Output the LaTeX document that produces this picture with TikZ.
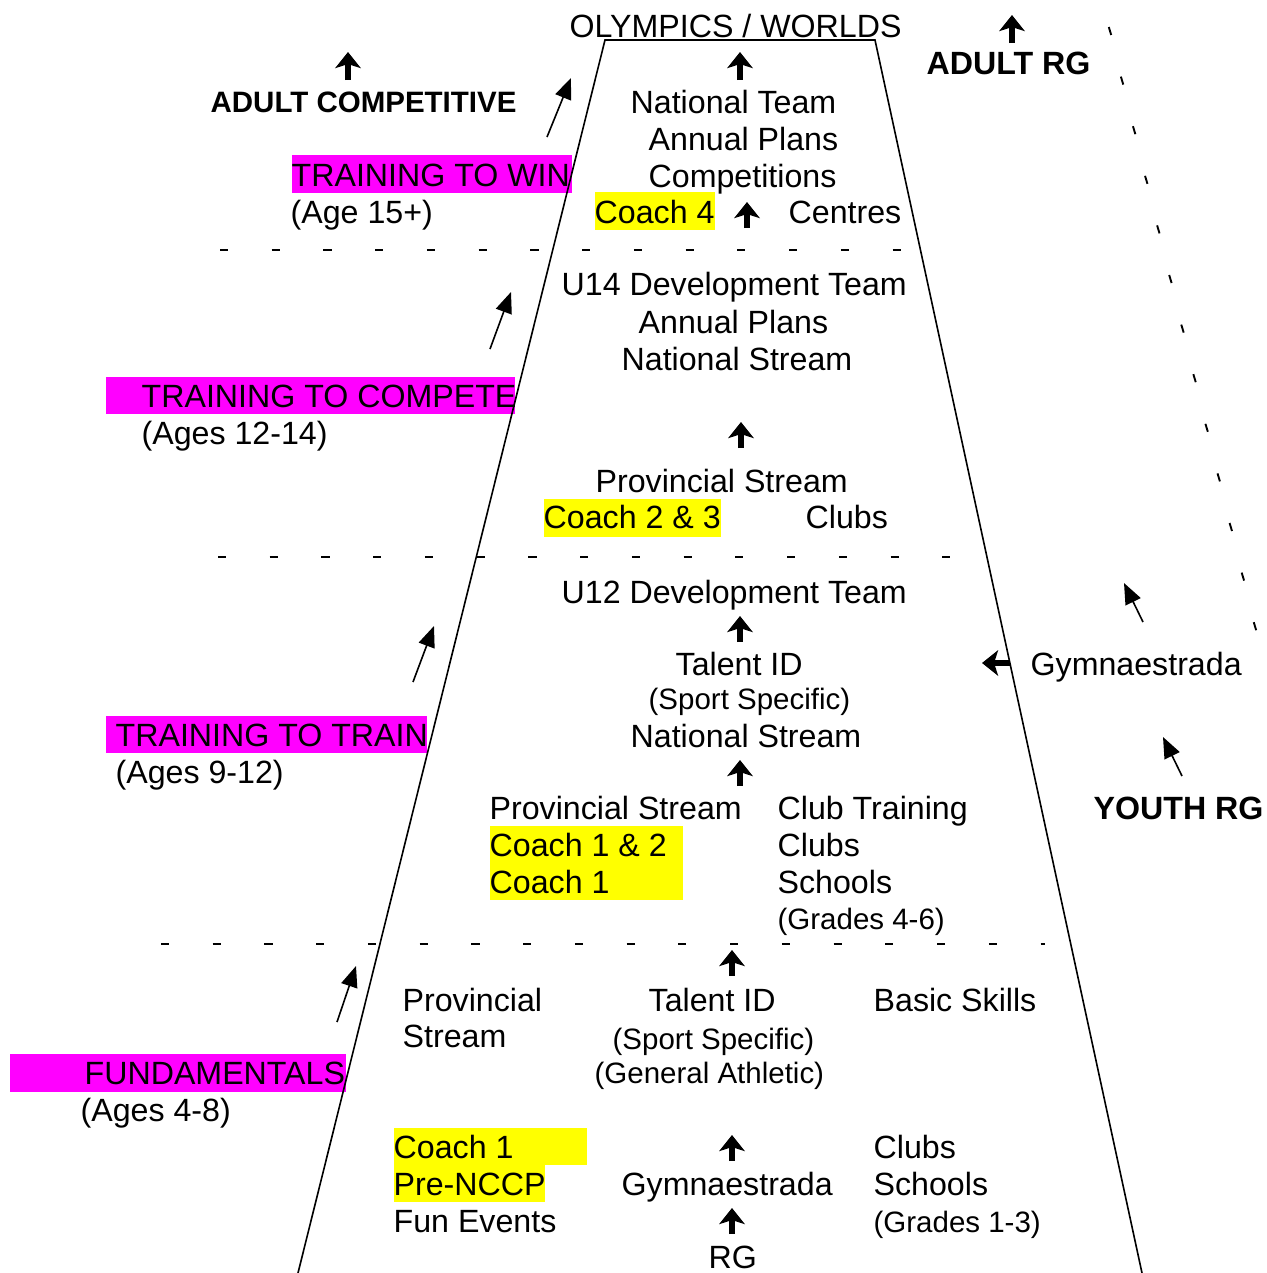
\documentclass[tikz,border=0pt]{standalone}
\usepackage{fontspec}
\setmainfont{Liberation Sans}
\usetikzlibrary{arrows.meta}
\definecolor{hlmag}{HTML}{FF00FF}
\definecolor{hlyel}{HTML}{FFFF00}
\begin{document}
\begin{tikzpicture}[x=0.373pt,y=-0.373pt,
  txt/.style={anchor=base west, inner sep=0pt, xshift=-0.7pt, font=\fontsize{12pt}{13.8pt}\selectfont},
  smalltxt/.style={anchor=base west, inner sep=0pt, xshift=-0.7pt, font=\fontsize{11pt}{12.6pt}\selectfont},
  boldtxt/.style={anchor=base west, inner sep=0pt, xshift=-0.7pt, font=\fontsize{12pt}{13.8pt}\selectfont\bfseries},
  bigarrow/.style={line width=1.9pt, -{Stealth[length=6pt,width=9.5pt,inset=1.5pt]}},
  thinarrow/.style={line width=0.6pt, -{Triangle[length=7.8pt,width=6.2pt]}},
  edgeline/.style={line width=0.6pt},
  dashrow/.style={line width=0.55pt, dash pattern=on 3pt off 16.3pt},
  tickmark/.style={line width=0.7pt},
]
\useasboundingbox (0,0) rectangle (1266,1273);

% highlight fills
\fill[hlmag] (292,155) rectangle (572,193);
\fill[hlmag] (106,377) rectangle (515,414);
\fill[hlmag] (106,716) rectangle (427,753);
\fill[hlmag] (10,1054) rectangle (346,1092);
\fill[hlyel] (595,192) rectangle (715,230);
\fill[hlyel] (544,499) rectangle (721,537);
\fill[hlyel] (490,826) rectangle (683,900);
\fill[hlyel] (394,1128) rectangle (587,1165);
\fill[hlyel] (394,1165) rectangle (545,1202);

% trapezoid
\coordinate (tl) at (605,40);
\coordinate (tr) at (875,40);
\coordinate (bl) at (298,1273);
\coordinate (br) at (1142,1273);
\draw[edgeline] (bl) -- (tl) -- (tr) -- (br);

% dashed separators
\draw[dashrow] (220,250) -- (902,250);
\draw[dashrow] (218,557) -- (950,557);
\draw[dashrow] (161,944) -- (1045,944);

% right tick line
\foreach \i in {0,...,12} {
  \draw[tickmark] ({1110+12.08*\i-1.2},{31+49.6*\i-4}) -- ++(2.4,8);
}

% texts
\node[txt] (olym) at (571,37) {OLYMPICS / WORLDS};
\node[boldtxt, font=\fontsize{11pt}{12.6pt}\selectfont\bfseries] (adultcomp) at (212,112) {ADULT COMPETITIVE};
\node[boldtxt] (adultrg) at (928,74) {ADULT RG};
\node[boldtxt] (youthrg) at (1095,819) {YOUTH RG};

\node[txt] (twin) at (293,186) {TRAINING TO WIN};
\node[txt] (age15) at (292,223) {(Age 15+)};
\node[txt] (natteam) at (632,113) {National Team};
\node[txt] (annual1) at (650,150) {Annual Plans};
\node[txt] (comp) at (650,187) {Competitions};
\node[txt] (coach4) at (596,223) {Coach 4};
\node[txt] (centres) at (790,223) {Centres};

\node[txt] (u14) at (563,295) {U14 Development Team};
\node[txt] (annual2) at (640,333) {Annual Plans};
\node[txt] (natstream1) at (623,370) {National Stream};
\node[txt] (tcomp) at (143,407) {TRAINING TO COMPETE};
\node[txt] (age1214) at (143,444) {(Ages 12-14)};
\node[txt] (prov1) at (597,492) {Provincial Stream};
\node[txt] (coach23) at (545,528) {Coach 2 \& 3};
\node[txt] (clubs1) at (807,528) {Clubs};

\node[txt] (u12) at (563,603) {U12 Development Team};
\node[txt] (talent1) at (677,675) {Talent ID};
\node[smalltxt] (sport1) at (650,709) {(Sport Specific)};
\node[txt] (natstream2) at (632,747) {National Stream};
\node[txt] (gym1) at (1032,675) {Gymnaestrada};
\node[txt] (ttrain) at (117,746) {TRAINING TO TRAIN};
\node[txt] (age912) at (117,783) {(Ages 9-12)};
\node[txt] (prov2) at (491,819) {Provincial Stream};
\node[txt] (clubtr) at (779,819) {Club Training};
\node[txt] (coach12) at (491,856) {Coach 1 \& 2};
\node[txt] (coach1a) at (491,893) {Coach 1};
\node[txt] (clubs2) at (779,856) {Clubs};
\node[txt] (schools1) at (779,893) {Schools};
\node[smalltxt] (grades46) at (779,929) {(Grades 4-6)};

\node[txt] (provA) at (404,1011) {Provincial};
\node[txt] (streamA) at (404,1047) {Stream};
\node[txt] (talent2) at (650,1011) {Talent ID};
\node[smalltxt] (sport2) at (614,1049) {(Sport Specific)};
\node[smalltxt] (general) at (596,1083) {(General Athletic)};
\node[txt] (basic) at (875,1011) {Basic Skills};
\node[txt] (fund) at (86,1084) {FUNDAMENTALS};
\node[txt] (age48) at (82,1121) {(Ages 4-8)};
\node[txt] (coach1b) at (395,1158) {Coach 1};
\node[txt] (prenccp) at (395,1195) {Pre-NCCP};
\node[txt] (fun) at (395,1232) {Fun Events};
\node[txt] (gym2) at (623,1195) {Gymnaestrada};
\node[txt] (rg) at (710,1268) {RG};
\node[txt] (clubs3) at (875,1158) {Clubs};
\node[txt] (schools2) at (875,1195) {Schools};
\node[smalltxt] (grades13) at (875,1232) {(Grades 1-3)};

% bold arrows
\draw[bigarrow] (740,80) -- (740,52);
\draw[bigarrow] (348,80) -- (348,52);
\draw[bigarrow] (1012,43) -- (1012,15);
\draw[bigarrow] (747,228) -- (747,202);
\draw[bigarrow] (741,448) -- (741,422);
\draw[bigarrow] (740,642) -- (740,616);
\draw[bigarrow] (740,786) -- (740,760);
\draw[bigarrow] (732,976) -- (732,950);
\draw[bigarrow] (732,1161) -- (732,1135);
\draw[bigarrow] (732,1234) -- (732,1208);
\draw[bigarrow] (1010,663) -- (982,663);

% thin slanted arrows
\draw[thinarrow] (547,137) -- (571,78);
\draw[thinarrow] (490,349) -- (511,292);
\draw[thinarrow] (413,682) -- (434,626);
\draw[thinarrow] (337,1022) -- (356,966);
\draw[thinarrow] (1143,622) -- (1124,583);
\draw[thinarrow] (1182,776) -- (1163,737);
\end{tikzpicture}
\end{document}
